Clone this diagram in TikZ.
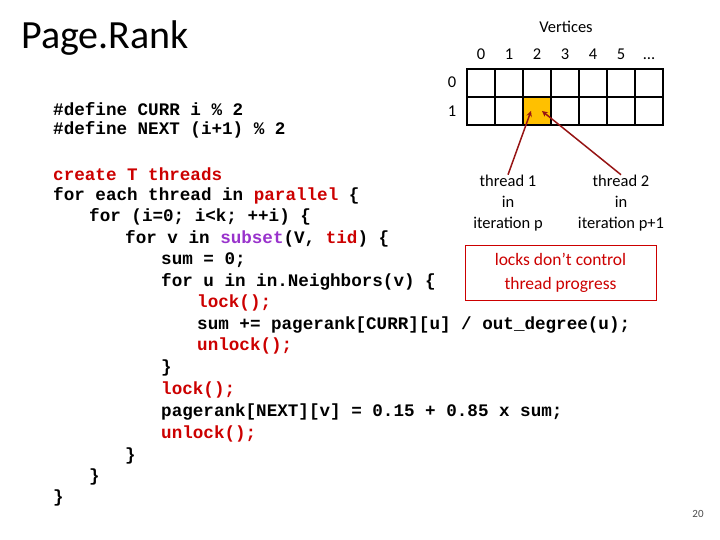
\documentclass[tikz,border=0pt]{standalone}
\usepackage{fontspec}
\setmainfont{Carlito}
\newfontfamily\codefont{Liberation Mono}
\definecolor{kwred}{RGB}{204,0,0}
\definecolor{kwpurple}{RGB}{153,51,204}
\definecolor{cellorange}{RGB}{255,192,0}
\definecolor{arrowred}{RGB}{150,20,20}
\begin{document}
\begin{tikzpicture}[
    x=1pt,y=-1pt,
    code/.style={anchor=west,inner sep=0pt,font=\codefont\bfseries\fontsize{17.6}{17.6}\selectfont},
    label/.style={inner sep=0pt,font=\fontsize{16.5}{21}\selectfont},
    cell/.style={draw,line width=1.3pt},
    pointer/.style={arrowred,line width=1.5pt,-stealth}
  ]
  \useasboundingbox (0,0) rectangle (720,540);
  % Title
  \node[anchor=west,inner sep=0pt,font=\fontsize{40}{40}\selectfont] (title) at (21,38) {Page.Rank};
  \node[label] (vert) at (566,27) {Vertices};
  % Column indices
  \foreach \i/\t in {0/0,1/1,2/2,3/3,4/4,5/5,6/\ldots}
    \node[label,anchor=base] (col\i) at (481+28*\i,60) {\t};
  \node[label] (row0) at (452,82) {0};
  \node[label] (row1) at (452,111) {1};
  % Grid
  \fill[cellorange] (523,97) rectangle (551,125);
  \foreach \r in {0,1}
    \foreach \c in {0,...,6}
      \draw[cell] (467+28*\c,69+28*\r) rectangle ++(28,28);
  \coordinate (hit1) at (531,111);
  \coordinate (hit2) at (542,111);
  % Threads
  \node[label,align=center] (t1) at (508,203) {thread 1\\in\\iteration p};
  \node[label,align=center] (t2) at (621,203) {thread 2\\in\\iteration p+1};
  \draw[pointer] (t1.north) -- (hit1);
  \draw[pointer] (t2.north) -- (hit2);
  \node[draw=kwred,line width=1pt,minimum width=191,minimum height=55,align=center,
        text=kwred,font=\fontsize{17.5}{24}\selectfont] (locks) at (560.5,272.5)
        {locks don't control\\thread progress};
  % Code
  \node[code] (d1) at (53,109) {\#define CURR i \% 2};
  \node[code] (d2) at (53,130) {\#define NEXT (i+1) \% 2};
  \node[code] (c1) at (53,174) {\textcolor{kwred}{create T threads}};
  \node[code] (c2) at (53,196) {for each thread in \textcolor{kwred}{parallel} \{};
  \node[code] (c3) at (89,217) {for (i=0; i<k; ++i) \{};
  \node[code] (c4) at (125,239) {for v in \textcolor{kwpurple}{subset}(V, \textcolor{kwred}{tid}) \{};
  \node[code] (c5) at (161,260) {sum = 0;};
  \node[code] (c6) at (161,282) {for u in in.Neighbors(v) \{};
  \node[code] (c7) at (197,303) {\textcolor{kwred}{lock();}};
  \node[code] (c8) at (197,325) {sum += pagerank[CURR][u] / out\_degree(u);};
  \node[code] (c9) at (197,346) {\textcolor{kwred}{unlock();}};
  \node[code] (c10) at (161,368) {\}};
  \node[code] (c11) at (161,390) {\textcolor{kwred}{lock();}};
  \node[code] (c12) at (161,412) {pagerank[NEXT][v] = 0.15 + 0.85 x sum;};
  \node[code] (c13) at (161,434) {\textcolor{kwred}{unlock();}};
  \node[code] (c14) at (125,456) {\}};
  \node[code] (c15) at (89,477) {\}};
  \node[code] (c16) at (53,498) {\}};
  \node[inner sep=0pt,font=\fontsize{11}{11}\selectfont,text=black!70] (page) at (698,514) {20};
\end{tikzpicture}
\end{document}
